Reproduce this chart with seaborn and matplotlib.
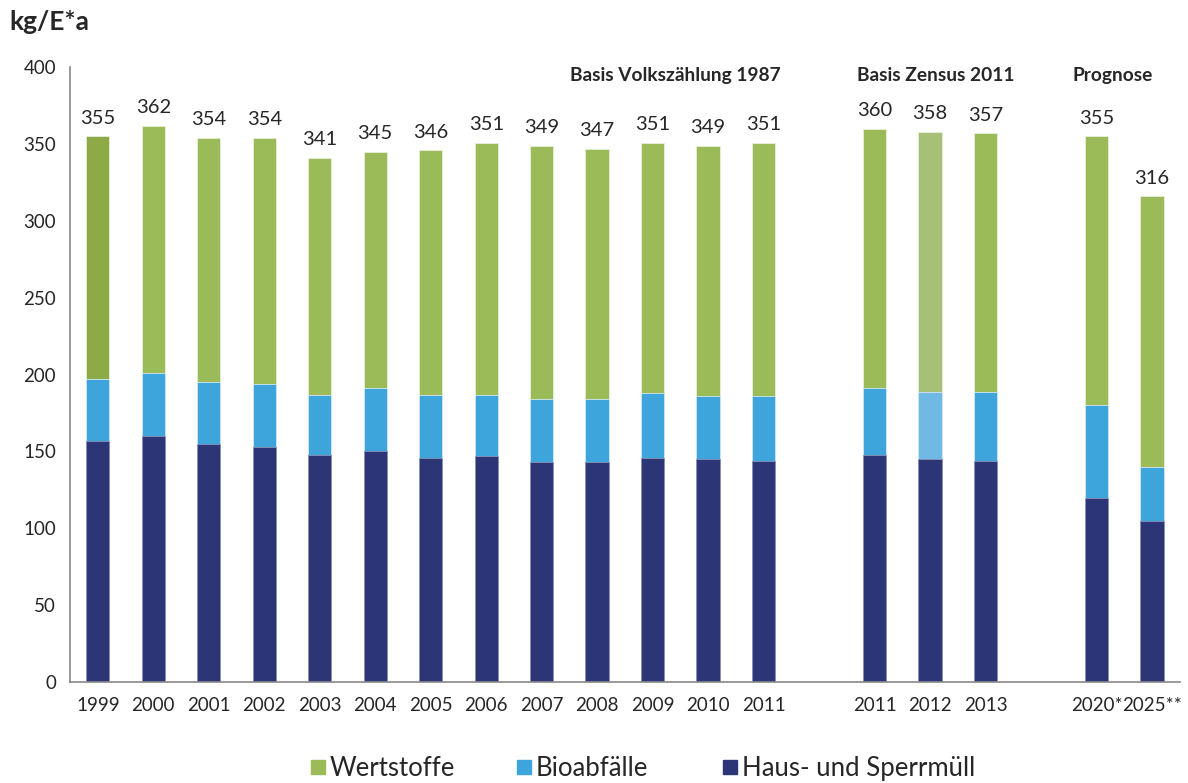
import seaborn as sns
import numpy as np
import pandas as pd
import matplotlib.pyplot as plt
from matplotlib.lines import Line2D

# data (kg per inhabitant and year)
keys = ["1999", "2000", "2001", "2002", "2003", "2004", "2005", "2006", "2007",
        "2008", "2009", "2010", "2011", "2011 Z", "2012", "2013", "2020*", "2025**"]
tick_labels = ["1999", "2000", "2001", "2002", "2003", "2004", "2005", "2006", "2007",
               "2008", "2009", "2010", "2011", "", "2011", "2012", "2013", "", "2020*", "2025**"]
order = keys[:13] + ["gap1"] + keys[13:16] + ["gap2"] + keys[16:]

haus = [157, 160, 155, 153, 148, 150, 146, 147, 143, 143, 146, 145, 144, 148, 145, 144, 120, 105]
bio = [40, 41, 40, 41, 39, 41, 41, 40, 41, 41, 42, 41, 42, 43, 44, 45, 60, 35]
totals = [355, 362, 354, 354, 341, 345, 346, 351, 349, 347, 351, 349, 351, 360, 358, 357, 355, 316]

headers = ["Basis Volkszählung 1987", "Basis Zensus 2011", "Prognose"]
series = ["Wertstoffe", "Bioabfälle", "Haus- und Sperrmüll"]

green = "#9BBB59"
blue = "#3EA5DC"
navy = "#2C3677"

df = pd.DataFrame({"key": keys, "haus": haus, "bio": bio, "total": totals})
df["haus_bio"] = df["haus"] + df["bio"]

sns.set_style("white")
plt.rcParams["font.family"] = ["Lato", "DejaVu Sans"]

fig = plt.figure(figsize=(11.88, 7.83), dpi=100)
ax = fig.add_axes([0.059, 0.129, 0.934, 0.785])

w = 0.42
sns.barplot(data=df, x="key", y="total", order=order, color=green, saturation=1,
            width=w, ax=ax, edgecolor="#e8eedd", linewidth=0.6)
n1 = len(ax.patches)
sns.barplot(data=df, x="key", y="haus_bio", order=order, color=blue, saturation=1,
            width=w, ax=ax, edgecolor="#d5e8f5", linewidth=0.6)
n2 = len(ax.patches)
sns.barplot(data=df, x="key", y="haus", order=order, color=navy, saturation=1,
            width=w, ax=ax, edgecolor="#8d93b8", linewidth=0.6)

# highlight colours for single bars
i1999 = order.index("1999")
i2012 = order.index("2012")
for k, p in enumerate(ax.patches):
    xc = p.get_x() + p.get_width() / 2
    if abs(xc - i1999) < 0.3 and k < n1:
        p.set_facecolor("#8DAA46")
    if abs(xc - i2012) < 0.3:
        if k < n1:
            p.set_facecolor("#A7C077")
        elif k < n2:
            p.set_facecolor("#70B9E4")

ax.bar_label(ax.containers[0], labels=[str(t) for t in totals], padding=7, fontsize=14.5)

ax.set_xlim(-0.5, len(order) - 0.5)
ax.set_ylim(0, 400)
ax.set_yticks(np.arange(0, 401, 50))
ax.set_xticks(range(len(order)))
ax.set_xticklabels(tick_labels, fontsize=13.5)
ax.set_xticks(np.arange(-0.5, len(order), 1), minor=True)
ax.tick_params(axis="x", which="major", length=0, pad=11)
ax.tick_params(axis="x", which="minor", length=5, color="#888888", width=1, direction="out")
ax.tick_params(axis="y", length=4, color="#888888", width=1, direction="out",
               labelsize=13.5, pad=6)
ax.set_xlabel("")
ax.set_ylabel("")
sns.despine(ax=ax)
for s in ["left", "bottom"]:
    ax.spines[s].set_color("#888888")
    ax.spines[s].set_linewidth(1.2)

ax.text(12.3, 395, headers[0], ha="right", va="center", fontsize=13.8, fontweight="bold", clip_on=False)
ax.text(15.1, 395, headers[1], ha="center", va="center", fontsize=13.8, fontweight="bold", clip_on=False)
ax.text(18.3, 395, headers[2], ha="center", va="center", fontsize=13.8, fontweight="bold", clip_on=False)

fig.text(0.008, 0.972, "kg/E*a", fontsize=19, fontweight="bold", va="center")

# legend entries evenly spaced, like the original
for c, lab, x0 in zip([green, blue, navy], series, [0.261, 0.435, 0.608]):
    h = Line2D([], [], marker="s", linestyle="", markersize=10.5, color=c)
    fig.legend([h], [lab], loc="center left", bbox_to_anchor=(x0, 0.019),
               frameon=False, fontsize=18.5, handletextpad=0.15, handlelength=0.6,
               borderpad=0, borderaxespad=0)

fig.savefig("out.png", dpi=100)
